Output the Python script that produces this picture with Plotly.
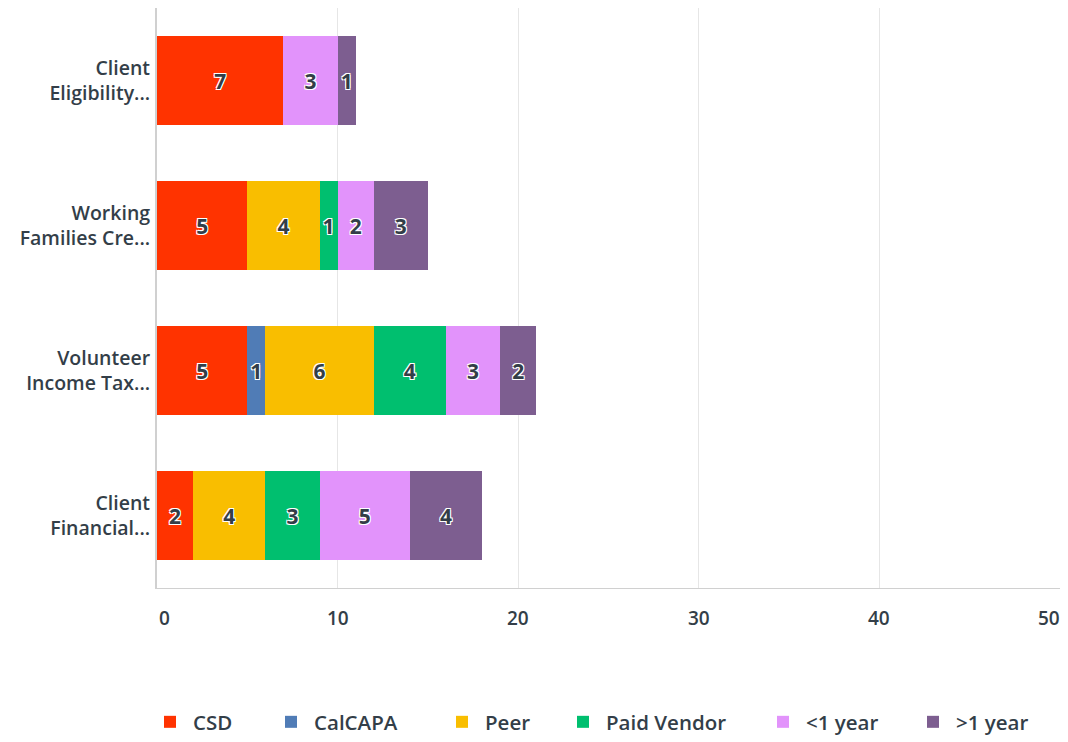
import plotly.graph_objects as go

categories = ["Client<br>Eligibility...", "Working<br>Families Cre...", "Volunteer<br>Income Tax...", "Client<br>Financial..."]
series_names = ["CSD", "CalCAPA", "Peer", "Paid Vendor", "<1 year", ">1 year"]
csd = [7, 5, 5, 2]
calcapa = [None, None, 1, None]
peer = [None, 4, 6, 4]
paid_vendor = [None, 1, 4, 3]
lt1 = [3, 2, 3, 5]
gt1 = [1, 3, 2, 4]
colors = ["#ff3300", "#507cb6", "#f9be00", "#00bf6f", "#e293fb", "#7d5e90"]
x_ticks = [0, 10, 20, 30, 40, 50]
# left edge (px, page) of each legend swatch
legend_left_px = [155, 276, 447, 568, 768, 918]

FONT = "Open Sans"
TXT = "#333e48"
W, H = 1060, 734
PAGE_OFF = 8

fig = go.Figure()
legend_ids = ["legend"] + [f"legend{i}" for i in range(2, 7)]
for k, (name, vals, col) in enumerate(zip(series_names, [csd, calcapa, peer, paid_vendor, lt1, gt1], colors)):
    fig.add_trace(go.Bar(
        y=categories, x=vals, name=name, orientation="h",
        marker=dict(color=col, line=dict(width=0)),
        text=[("" if v is None else str(v)) for v in vals],
        textposition="inside", insidetextanchor="middle",
        textfont=dict(family=FONT, size=21, color=TXT, weight=700,
                      shadow="1px 1px 0px white, -1px -1px 0px white, 1px -1px 0px white, -1px 1px 0px white"),
        constraintext="none",
        hoverinfo="x+name",
        legend=legend_ids[k],
    ))

# x tick labels as annotations so the end labels can sit inside the plot width
for i, v in enumerate(x_ticks):
    shift = 7 if i == 0 else (-11 if i == len(x_ticks) - 1 else 0)
    fig.add_annotation(x=v, xref="x", y=0, yref="paper", yanchor="top", yshift=-15,
                       xshift=shift, text=str(v), showarrow=False,
                       font=dict(family=FONT, size=19, color=TXT, weight=600))

legend_style = dict(orientation="h", xref="container", xanchor="left", y=20 / H, yref="container",
                    yanchor="middle", font=dict(family=FONT, size=20.5, color=TXT, weight=600),
                    itemwidth=36, bgcolor="rgba(0,0,0,0)")
legends = {}
for k, lid in enumerate(legend_ids):
    legends[lid] = dict(legend_style, x=(legend_left_px[k] - PAGE_OFF - 8) / W)

fig.update_layout(
    barmode="stack",
    bargap=0.38,
    width=W, height=H,
    margin=dict(l=149, r=8, t=0, b=154, autoexpand=False),
    paper_bgcolor="white", plot_bgcolor="white",
    font=dict(family=FONT, color=TXT, size=18),
    xaxis=dict(range=[0, 50], tickvals=x_ticks, showticklabels=False, showgrid=True,
               gridcolor="#e6e6e6", gridwidth=1, automargin=False,
               zeroline=False, showline=True, linecolor="#d0d0d0", linewidth=1, ticks=""),
    yaxis=dict(categoryorder="array", categoryarray=categories, autorange="reversed", automargin=False,
               showline=True, linecolor="#d0d0d0", linewidth=2, showgrid=False,
               tickfont=dict(family=FONT, size=19.5, color=TXT, weight=600), ticks="", ticklabelstandoff=1),
    showlegend=True,
    **legends,
)

fig.write_html("out.html")
